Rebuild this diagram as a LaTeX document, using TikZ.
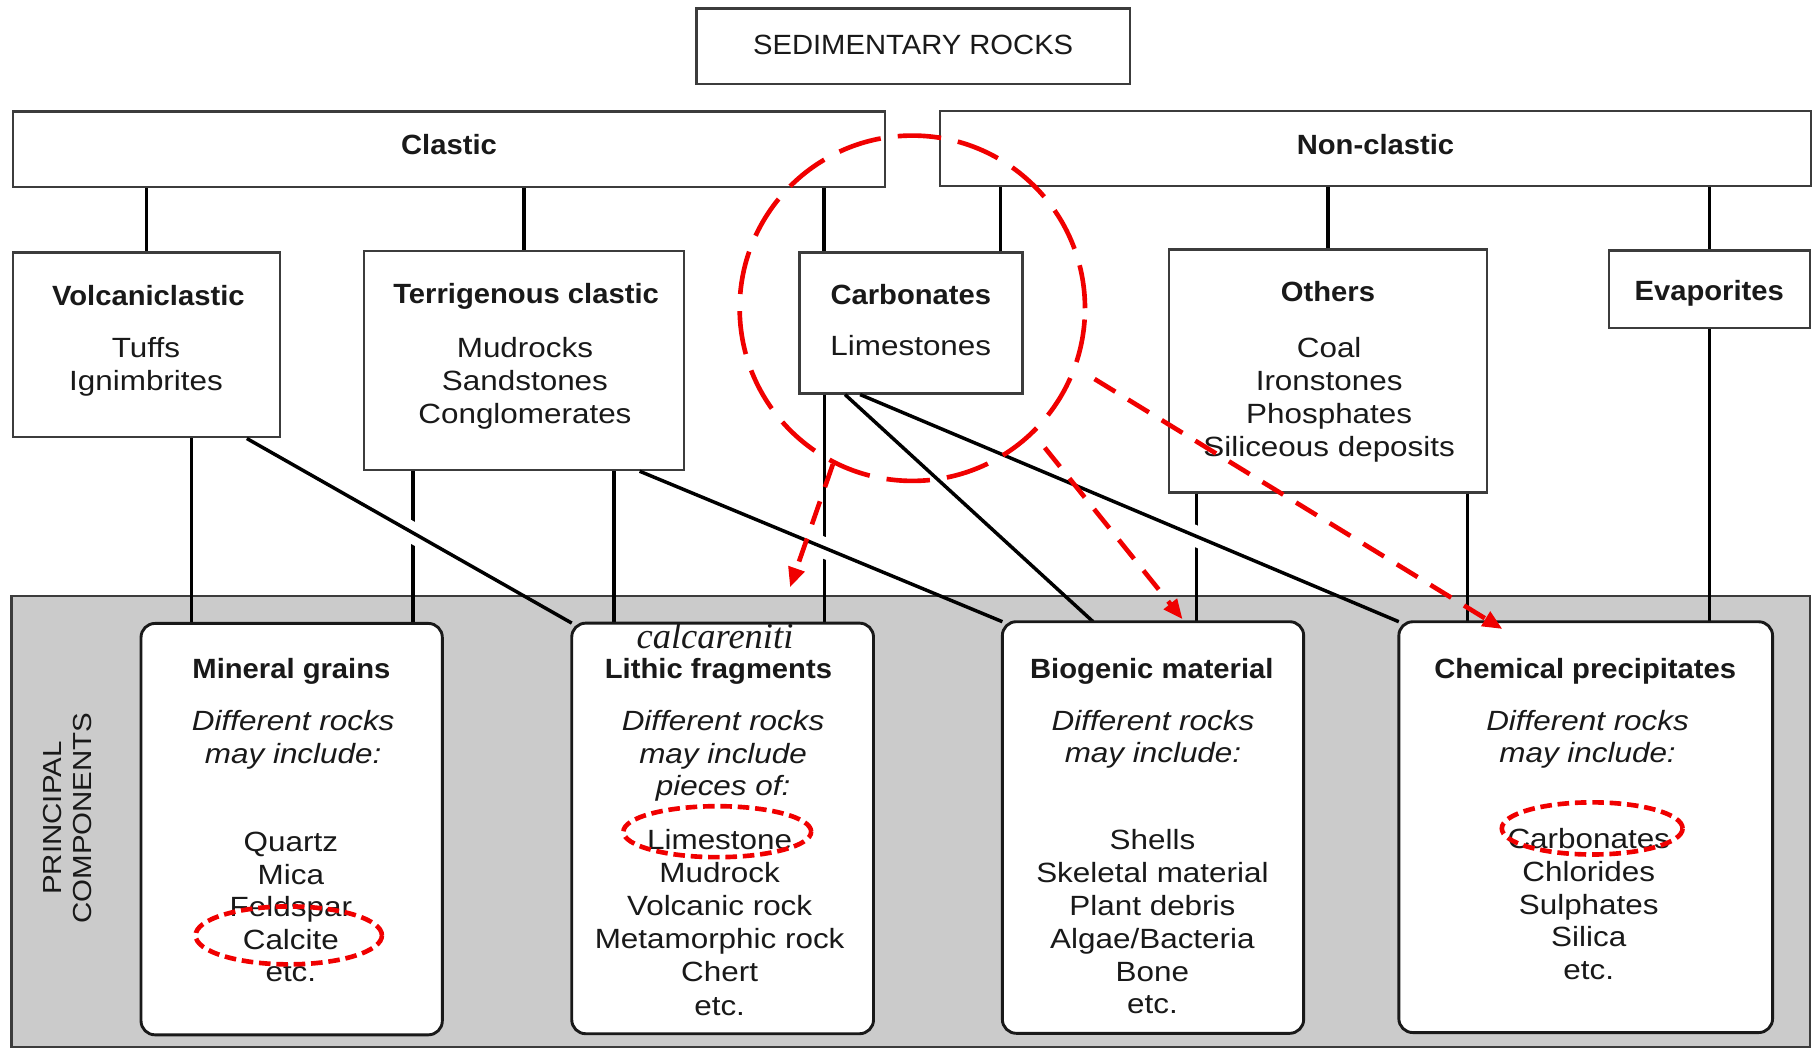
\documentclass[tikz,border=0pt]{standalone}
\usepackage{fontspec}
\setmainfont{Liberation Sans}[FakeStretch=1.13]
\newfontfamily\titlefont{Liberation Sans}[FakeStretch=1.05]
\newfontfamily\calcfont{Liberation Serif}
\usetikzlibrary{arrows.meta,calc,shapes.geometric}
\definecolor{ink}{RGB}{25,25,25}
\definecolor{edge}{RGB}{60,60,60}
\definecolor{panelgray}{RGB}{203,203,203}
\definecolor{mark}{RGB}{240,0,0}
\begin{document}
\begin{tikzpicture}[x=1pt,y=-1pt,
  box/.style={draw=edge, line width=2pt, fill=white, inner sep=0pt, rectangle},
  rbox/.style={box, draw=ink, line width=2.5pt, rounded corners=12pt},
  link/.style={line width=3pt, draw=black},
  hop/.style={draw=white, line width=18pt},
  txt/.style={inner sep=0pt, anchor=base, text=ink, font=\fontsize{24}{28}\selectfont},
  ttl/.style={txt, font=\fontsize{24}{28}\titlefont\bfseries},
  itx/.style={txt, font=\fontsize{24}{28}\selectfont\itshape},
  ring/.style={draw=mark, line width=4pt, dash pattern=on 37.5pt off 14.8pt, circle, inner sep=0pt, minimum size=298pt},
  oval/.style={draw=mark, line width=4pt, dash pattern=on 10pt off 5pt, ellipse, inner sep=0pt},
  pointer/.style={draw=mark, line width=4pt, dash pattern=on 21pt off 13pt, -{Triangle[length=17pt,width=14pt]}},
]
% canvas
\fill[white] (0,0) rectangle (1568,905);
\useasboundingbox (0,0) rectangle (1568,905);

% shaded band of principal components
\node[draw=edge, line width=2pt, fill=panelgray, inner sep=0pt, minimum width=1552pt, minimum height=389.2pt] (panel) at (786,708.9) {};

% classification boxes
\node[box, minimum width=374pt, minimum height=65.3pt] (sed) at (788,39.85) {};
\node[box, minimum width=753pt, minimum height=65.3pt] (clastic) at (387.5,129) {};
\node[box, minimum width=752pt, minimum height=65pt] (nonclastic) at (1187,128) {};
\node[box, minimum width=230.4pt, minimum height=159.4pt] (volc) at (126.2,297.7) {};
\node[box, minimum width=276pt, minimum height=189.3pt] (terr) at (452,311) {};
\node[box, minimum width=192.5pt, minimum height=121.5pt] (carb) at (786.25,278.75) {};
\node[box, minimum width=274.2pt, minimum height=209.8pt] (others) at (1145.9,320.1) {};
\node[box, minimum width=173.6pt, minimum height=67pt] (evap) at (1475.2,249.8) {};

% centres of the component boxes
\path (251.7,715.5) coordinate (mineralc) (623.6,714.9) coordinate (lithicc)
      (995,714.1) coordinate (biogenicc) (1368.4,713.8) coordinate (chemicalc);

% attachment points
\coordinate (cL) at ([xshift=-75pt]carb.north);
\coordinate (cR) at ([xshift=77.25pt]carb.north);
\coordinate (v1) at ([xshift=39.1pt]volc.south);
\coordinate (d1) at ([xshift=86.8pt]volc.south);
\coordinate (t1) at ([xshift=-95.4pt]terr.south);
\coordinate (t2) at ([xshift=78pt]terr.south);
\coordinate (d2) at ([xshift=100pt]terr.south);
\coordinate (c1) at ([xshift=-74.95pt]carb.south);
\coordinate (d3) at ([xshift=-57pt]carb.south);
\coordinate (d4) at ([xshift=-44pt]carb.south);
\coordinate (o1) at ([xshift=-113.3pt]others.south);
\coordinate (o2) at ([xshift=120.4pt]others.south);
\coordinate (topY) at (0,537.5);
\coordinate (lithicNW) at (493.4,537.7);
\coordinate (bioNW) at (865,536.5);
\coordinate (bioTop) at (943.3,536.5);
\coordinate (chemNW) at (1207.1,536.5);

% links from the two groups
\draw[link] (volc.north |- clastic.south) -- (volc.north);
\draw[link] (terr.north |- clastic.south) -- (terr.north);
\draw[link] (cL |- clastic.south) -- (cL);
\draw[link] (cR |- nonclastic.south) -- (cR);
\draw[link] (others.north |- nonclastic.south) -- (others.north);
\draw[link] (evap.north |- nonclastic.south) -- (evap.north);

% vertical links to the components
\draw[link] (v1) -- (v1 |- topY);
\draw[link] (t1) -- (t1 |- topY);
\draw[link] (t2) -- (t2 |- topY);
\draw[link] (c1) -- (c1 |- topY);
\draw[link] (o1) -- (o1 |- topY);
\draw[link] (o2) -- (o2 |- topY);
\draw[link] (evap.south) -- (evap.south |- topY);

% diagonal links, with a break in the lines they cross
\draw[hop] ($(d1)!0.40!(lithicNW)$) -- ($(d1)!0.62!(lithicNW)$);
\draw[hop] ($(d2)!0.42!(bioNW)$) -- ($(d2)!0.60!(bioNW)$);
\draw[hop] ($(d4)!0.55!(chemNW)$) -- ($(d4)!0.70!(chemNW)$);
\draw[link] (d1) -- (lithicNW);
\draw[link] (d2) -- (bioNW);
\draw[link] (d3) -- (bioTop);
\draw[link] (d4) -- (chemNW);

% component boxes
\node[rbox, minimum width=260pt, minimum height=355pt] (mineral) at (mineralc) {};
\node[rbox, minimum width=260.4pt, minimum height=354.3pt] (lithic) at (lithicc) {};
\node[rbox, minimum width=260pt, minimum height=355.2pt] (biogenic) at (biogenicc) {};
\node[rbox, minimum width=322.5pt, minimum height=354.5pt] (chemical) at (chemicalc) {};

% headings
\node[txt, font=\fontsize{24}{28}\titlefont] (sedt) at (788,46.9) {SEDIMENTARY ROCKS};
\node[ttl] (clastict) at (387.5,133) {Clastic};
\node[ttl] (nonclastict) at (1187,133) {Non-clastic};
\node[ttl] (volct) at (128,263.2) {Volcaniclastic};
\node[ttl] (terrt) at (454,262.3) {Terrigenous clastic};
\node[ttl] (carbt) at (786,262.5) {Carbonates};
\node[ttl] (otherst) at (1146,260.3) {Others};
\node[ttl] (evapt) at (1475,259.5) {Evaporites};

\foreach \t [count=\i from 0] in {Tuffs,Ignimbrites}
  \node[txt] (volc-\i) at (126,{308.7+28*\i}) {\t};
\foreach \t [count=\i from 0] in {Mudrocks,Sandstones,Conglomerates}
  \node[txt] (terr-\i) at (453,{308.5+28.4*\i}) {\t};
\node[txt] (carb-0) at (786,306.6) {Limestones};
\foreach \t [count=\i from 0] in {Coal,Ironstones,Phosphates,Siliceous deposits}
  \node[txt] (others-\i) at (1147,{308.4+28.4*\i}) {\t};

% side label
\node[rotate=90, align=center, inner sep=0pt, text=ink, font=\fontsize{22.5}{26}\selectfont] (pc) at (58,706) {PRINCIPAL\\COMPONENTS};

% component texts
\node[ttl] (mineralt) at (251.5,585.5) {Mineral grains};
\node[ttl] (lithict) at (620,585.5) {Lithic fragments};
\node[ttl] (biogenict) at (994,585.5) {Biogenic material};
\node[ttl] (chemicalt) at (1368,585.5) {Chemical precipitates};
\node[txt, font=\fontsize{31.5}{34}\calcfont\itshape] (calc) at (617,559.5) {calcareniti};

\node[itx] (mineral-a) at (253,630.8) {Different rocks};
\node[itx] (mineral-b) at (253,658.5) {may include:};
\node[itx] (lithic-a) at (624,630.8) {Different rocks};
\node[itx] (lithic-b) at (624,658.5) {may include};
\node[itx] (lithic-c) at (624,686.3) {pieces of:};
\node[itx] (biogenic-a) at (995,630.3) {Different rocks};
\node[itx] (biogenic-b) at (995,658) {may include:};
\node[itx] (chemical-a) at (1370,630.3) {Different rocks};
\node[itx] (chemical-b) at (1370,658) {may include:};

\foreach \t [count=\i from 0] in {Quartz,Mica,Feldspar,Calcite,etc.}
  \node[txt] (mineral-\i) at (251,{735+28.1*\i}) {\t};
\foreach \t [count=\i from 0] in {Limestone,Mudrock,Volcanic rock,Metamorphic rock,Chert,etc.}
  \node[txt] (lithic-\i) at (621,{733+28.6*\i}) {\t};
\foreach \t [count=\i from 0] in {Shells,Skeletal material,Plant debris,Algae/Bacteria,Bone,etc.}
  \node[txt] (biogenic-\i) at (994.5,{733+28.4*\i}) {\t};
\foreach \t [count=\i from 0] in {Carbonates,Chlorides,Sulphates,Silica,etc.}
  \node[txt] (chemical-\i) at (1371,{732+28.4*\i}) {\t};

% red annotations
\node[ring] (ring) at (787.3,266) {};
\node[oval, minimum width=160.8pt, minimum height=50pt] (calciteMark) at (249.2,807.2) {};
\node[oval, minimum width=162pt, minimum height=44pt] (limestoneMark) at (619,717.7) {};
\node[oval, minimum width=156pt, minimum height=45pt] (carbonatesMark) at (1374,714.9) {};

\coordinate (tipL) at (681.8,506.8);
\coordinate (tipB) at ([xshift=25.5pt,yshift=0.9pt]biogenic.north);
\coordinate (tipC) at ([xshift=-71.9pt,yshift=-7.5pt]chemical.north);
\draw[pointer] (ring.243) -- (tipL);
\draw[pointer, shorten <=15pt] (ring.314.3) -- (tipB);
\draw[pointer, shorten <=18pt] (ring.340.1) -- (tipC);
\end{tikzpicture}
\end{document}
